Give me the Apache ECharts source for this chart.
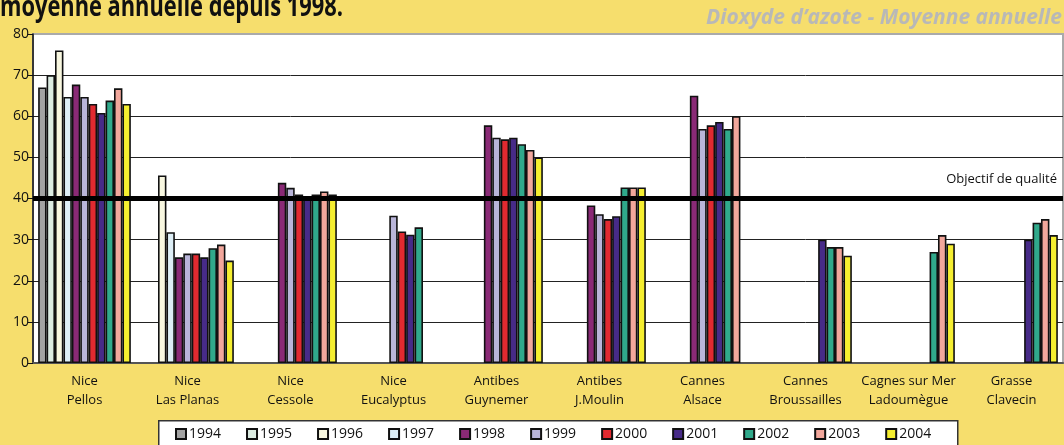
<!DOCTYPE html>
<html>
<head>
<meta charset="utf-8">
<script src="https://cdn.jsdelivr.net/npm/echarts@6/dist/echarts.min.js"></script>
<style>
  html, body { margin: 0; padding: 0; background: #f6de6d; }
  #main { width: 1064px; height: 445px; }
</style>
</head>
<body>
<div id="main"></div>
<script>
var stations = ['Nice\nPellos', 'Nice\nLas Planas', 'Nice\nCessole', 'Nice\nEucalyptus', 'Antibes\nGuynemer',
    'Antibes\nJ.Moulin', 'Cannes\nAlsace', 'Cannes\nBroussailles', 'Cagnes sur Mer\nLadoumègue', 'Grasse\nClavecin'];
var years = ['1994', '1995', '1996', '1997', '1998', '1999', '2000', '2001', '2002', '2003', '2004'];
var colors = ['#a3a3a3', '#dcece2', '#f8f7e0', '#ddeef6', '#8a2a76', '#b9b5d9', '#e12a30', '#472b88', '#30a98b', '#f2a79c', '#f5ee30'];

var v1994 = [67, null, null, null, null, null, null, null, null, null];
var v1995 = [70, null, null, null, null, null, null, null, null, null];
var v1996 = [76, 45.6, null, null, null, null, null, null, null, null];
var v1997 = [64.7, 31.8, null, null, null, null, null, null, null, null];
var v1998 = [67.7, 25.7, 43.8, null, 57.8, 38.3, 65, null, null, null];
var v1999 = [64.7, 26.6, 42.6, 35.8, 54.8, 36.2, 56.9, null, null, null];
var v2000 = [63, 26.6, 41, 32, 54.4, 35, 57.8, null, null, null];
var v2001 = [60.8, 25.7, 40.6, 31.2, 54.8, 35.7, 58.6, 30, null, 30];
var v2002 = [63.8, 27.9, 41, 33, 53.2, 42.7, 56.9, 28.2, 27, 34.1];
var v2003 = [66.8, 28.8, 41.7, null, 51.8, 42.7, 60, 28.2, 31.1, 35];
var v2004 = [63, 24.9, 41, null, 50, 42.7, null, 26.1, 29, 31.1];
var values = [v1994, v1995, v1996, v1997, v1998, v1999, v2000, v2001, v2002, v2003, v2004];

var objectif = 40;

var myChart = echarts.init(document.getElementById('main'));

var series = [];
for (var i = 0; i < years.length; i++) {
    series.push({
        name: years[i],
        type: 'bar',
        data: values[i],
        barGap: '0%',
        barCategoryGap: '10%',
        itemStyle: { color: colors[i], borderColor: '#111', borderWidth: 1.6 }
    });
}
// ligne objectif de qualité
series[series.length - 1].markLine = {
    silent: true,
    symbol: 'none',
    z: 10,
    lineStyle: { color: '#000', width: 5, type: 'solid' },
    label: {
        position: 'insideEndTop',
        distance: [6, 13],
        formatter: 'Objectif de qualité',
        color: '#111',
        fontFamily: 'Open Sans',
        fontSize: 13
    },
    data: [{ yAxis: objectif }]
};

var option = {
    backgroundColor: '#f6de6d',
    animation: false,
    textStyle: { fontFamily: 'Open Sans' },
    graphic: [
        {
            type: 'text', left: 0, top: -6, scaleX: 0.78,
            style: { text: 'moyenne annuelle depuis 1998.', font: 'bold 28px "Open Sans"', fill: '#111' }
        },
        {
            type: 'text', right: 2, top: 8,
            style: { text: 'Dioxyde d’azote - Moyenne annuelle', font: 'italic bold 21px "Open Sans"', fill: '#b8b8b8' }
        },
        {
            type: 'rect', left: 158, top: 420, z: 0,
            shape: { width: 799, height: 30 },
            style: { fill: '#fff', stroke: '#333', lineWidth: 1.5 }
        }
    ],
    grid: {
        left: 33, right: 1, top: 34, bottom: 82,
        show: true, backgroundColor: '#fff', borderColor: '#aaa', borderWidth: 2
    },
    legend: {
        data: years,
        left: 170, top: 422,
        itemWidth: 10, itemHeight: 10, itemGap: 25,
        icon: 'rect',
        textStyle: { fontSize: 14, color: '#111', fontFamily: 'Open Sans', padding: [0, 0, 0, -2] },
        z: 5
    },
    xAxis: {
        type: 'category',
        data: stations,
        axisLine: { lineStyle: { color: '#555', width: 2 } },
        axisTick: { length: 5, lineStyle: { color: '#333' } },
        axisLabel: { color: '#111', fontSize: 13, lineHeight: 19, margin: 9, interval: 0 }
    },
    yAxis: {
        type: 'value',
        min: 0, max: 80, interval: 10,
        axisLine: { show: true, lineStyle: { color: '#111', width: 1.5 } },
        axisTick: { show: true, length: 5, lineStyle: { color: '#111' } },
        axisLabel: { color: '#111', fontSize: 14, margin: 4 },
        splitLine: { lineStyle: { color: ['#222', '#222', '#222', '#222', '#222', '#222', '#222', '#222', '#aaa'], width: 1 } }
    },
    series: series
};
myChart.setOption(option);
</script>
</body>
</html>
